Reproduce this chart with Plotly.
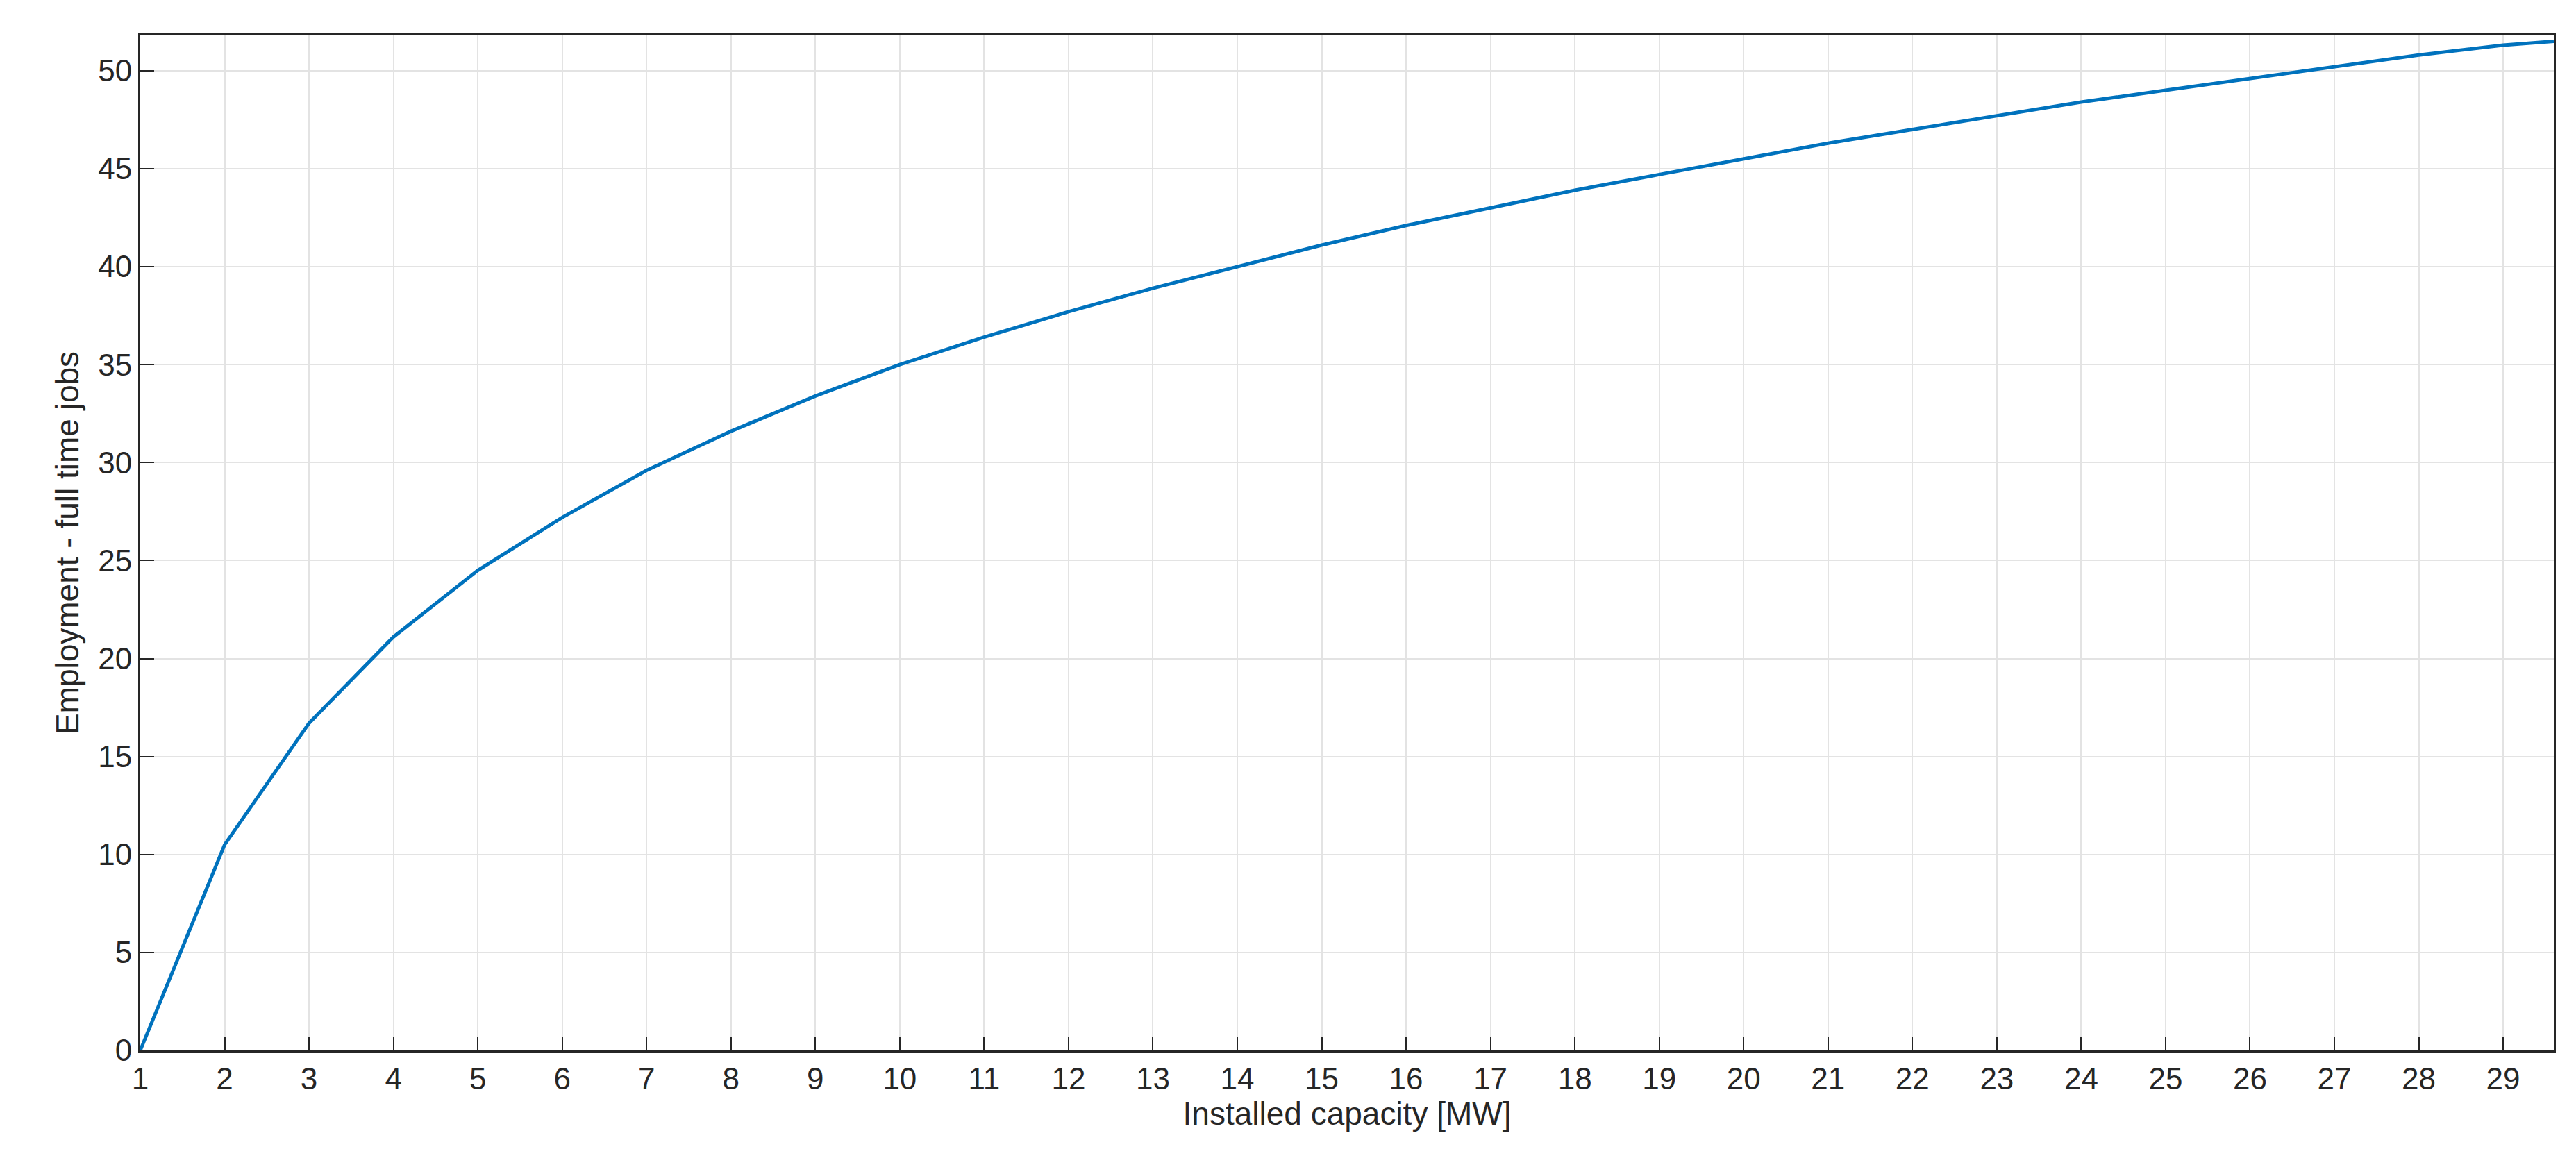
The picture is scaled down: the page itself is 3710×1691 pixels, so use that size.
import plotly.graph_objects as go

capacity_mw = list(range(1, 30)) + [29.6]
jobs = [0, 10.5, 16.7, 21.1, 24.5, 27.2, 29.6, 31.6, 33.4, 35.0, 36.4, 37.7, 38.9, 40.0,
        41.1, 42.1, 43.0, 43.9, 44.7, 45.5, 46.3, 47.0, 47.7, 48.4, 49.0, 49.6, 50.2,
        50.8, 51.3, 51.5]

fig = go.Figure(go.Scatter(x=capacity_mw, y=jobs, mode="lines",
                           line=dict(color="#0072BD", width=5)))
ax = dict(showline=True, linecolor="#262626", linewidth=3, mirror=True,
          showgrid=True, gridcolor="#E3E3E3", gridwidth=2,
          ticks="inside", ticklen=20, tickwidth=2, tickcolor="#262626",
          zeroline=False, tickfont=dict(size=44, color="#262626"))
fig.update_xaxes(**ax, range=[1, 29.6], dtick=1, tick0=1,
                 title=dict(text="Installed capacity [MW]", font=dict(size=46, color="#262626"), standoff=4))
fig.update_yaxes(**ax, range=[0, 51.8], dtick=5,
                 title=dict(text="Employment - full time jobs", font=dict(size=46, color="#262626"), standoff=14))
fig.update_layout(width=3710, height=1691, plot_bgcolor="white", paper_bgcolor="white",
                  font=dict(family="Liberation Sans"), showlegend=False,
                  margin=dict(l=194, r=40, t=43, b=186))
fig.write_html("out.html")
